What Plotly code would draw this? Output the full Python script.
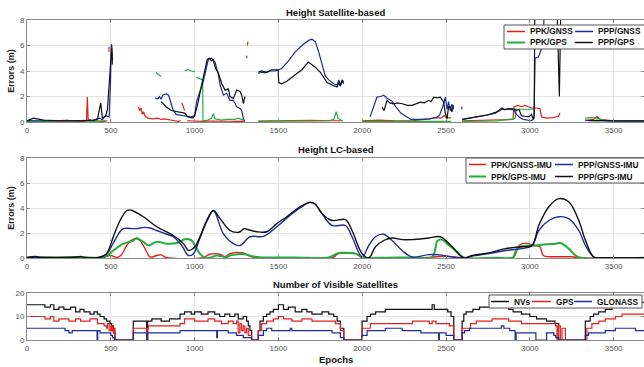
import plotly.graph_objects as go

# ---------------- Height Satellite-based (top) ----------------
sat_ppk_gnss_x = [0, 60, 120, 200, 280, 340, 355, 360, 365, 400, 450, 480, None,
                  488, 490, None,
                  665, 672, 680, 688, 695, 705, 720, 750, 780, 800, 820, 850, 880, 900, 918, None,
                  922, 930, 940, None,
                  955, 1000, 1050, 1100, 1150, 1200, 1250, 1298, None,
                  1310, 1312, None,
                  1315, 1318, None,
                  1380, 1450, 1500, 1600, 1700, 1800, 1885, None,
                  2000, 2100, 2200, 2300, 2400, 2440, 2470, 2490, 2500, 2530, None,
                  2596, 2700, 2800, 2900, 2905, 2930, 2950, 2970, 2990, 3010, 3040, 3060, 3070, 3100, 3140, 3170, 3180, None,
                  3330, 3380, 3400, 3420, 3500, 3600, 3681]
sat_ppk_gnss_y = [0.1, 0.05, 0.05, 0.08, 0.05, 0.05, 0.1, 1.95, 0.2, 0.1, 0.05, 0.1, None,
                  5.5, 5.9, None,
                  1.2, 0.9, 1.1, 0.6, 0.8, 0.45, 0.3, 0.25, 0.3, 0.2, 0.25, 0.15, 0.1, 0.05, 0.1, None,
                  1.5, 1.3, 0.9, None,
                  0.1, 0.05, 0.05, 0.08, 0.05, 0.06, 0.05, 0.05, None,
                  5.2, 5.0, None,
                  6.0, 6.3, None,
                  0.08, 0.1, 0.08, 0.1, 0.12, 0.1, 0.1, None,
                  0.1, 0.15, 0.1, 0.1, 0.25, 0.35, 0.3, 0.5, 0.35, 0.3, None,
                  0.1, 0.12, 0.15, 0.2, 1.2, 1.3, 1.2, 1.3, 1.2, 1.1, 1.1, 1.05, 0.4, 0.3, 0.35, 0.45, 0.7, None,
                  0.1, 0.2, 0.45, 0.2, 0.1, 0.08, 0.1]

sat_ppp_gnss_x = [0, 100, 200, 300, 400, 430, 450, 470, 490, 498, 503, 506, 510, None,
                  765, 780, 790, 800, 810, 830, 845, 860, 870, 890, 920, 950, 980, 1000, 1012, 1030,
                  1052, 1082, 1102, 1122, 1142, 1152, 1172, 1191, 1211, 1231, 1251, 1271, 1281, 1291, 1298, None,
                  1380, 1400, 1420, 1450, 1480, 1498, 1520, 1560, 1600, 1640, 1680, 1700, 1720, 1740, 1760,
                  1780, 1800, 1830, 1850, 1860, 1870, 1880, 1890, None,
                  2047, 2070, 2088, 2110, 2128, 2145, 2158, 2180, 2200, 2230, 2267, 2290, 2350, 2400, 2440,
                  2460, 2480, 2496, 2506, 2515, 2525, 2535, 2545, None,
                  2592, 2596, None,
                  2600, 2650, 2700, 2750, 2795, 2834, 2870, 2904, 2920, 2940, 2960, 2990, 3010, 3025, 3031,
                  3051, 3061, 3071, 3081, 3090, None,
                  3330, 3400, 3500, 3600, 3681]
sat_ppp_gnss_y = [0.1, 0.12, 0.1, 0.1, 0.15, 0.3, 0.2, 0.5, 0.4, 3.0, 6.1, 6.0, 4.5, None,
                  1.9, 1.8, 2.0, 1.8, 2.1, 2.2, 2.1, 1.5, 1.0, 0.6, 0.5, 0.45, 0.4, 0.5, 1.6, 2.4,
                  3.2, 4.9, 5.0, 4.7, 3.7, 2.9, 2.1, 2.25, 1.7, 1.7, 1.2, 1.06, 0.9, 0.27, 0.05, None,
                  3.8, 3.9, 3.85, 4.0, 4.0, 4.1, 4.2, 4.8, 5.5, 6.0, 6.4, 6.5, 6.3, 5.5, 4.5,
                  3.6, 3.3, 3.0, 2.9, 3.3, 2.9, 3.2, 3.0, None,
                  0.4, 1.2, 1.95, 2.0, 2.1, 1.9, 1.8, 1.6, 1.2, 0.7, 0.4, 0.2, 0.2, 0.25, 0.35,
                  0.5, 1.2, 1.95, 1.0, 1.6, 0.9, 1.4, 1.0, None,
                  1.0, 1.2, None,
                  0.2, 0.3, 0.4, 0.55, 0.7, 1.0, 1.0, 0.95, 0.6, 0.35, 0.2, 0.15, 0.1, 0.3, 5.0,
                  5.1, 5.5, 5.8, 7.1, 10, None,
                  0.15, 0.1, 0.1, 0.12, 0.1]

sat_ppk_gps_x = [0, 100, 180, 240, 280, 330, 400, 470, None,
                 770, 785, 800, None,
                 940, 960, 980, 1000, None,
                 1010, 1030, 1048, 1050, 1080, 1100, 1112, 1120, 1160, 1200, 1240, 1260, 1290, None,
                 1380, 1500, 1600, 1700, 1800, 1830, 1845, 1855, 1880, None,
                 2000, 2100, 2200, 2300, 2400, 2530, None,
                 2596, 2700, 2800, 2900, 2912, 2918, 2960, 3000, 3020, None,
                 3330, 3360, 3400, 3450, 3500, 3681]
sat_ppk_gps_y = [0.05, 0.03, 0.1, 0.15, 0.05, 0.12, 0.05, 0.1, None,
                 3.9, 3.7, 3.6, None,
                 4.0, 4.1, 4.0, 3.95, None,
                 3.5, 3.4, 3.3, 0.1, 0.15, 0.3, 0.65, 0.25, 0.15, 0.2, 0.2, 0.3, 0.15, None,
                 0.05, 0.05, 0.08, 0.1, 0.1, 0.2, 0.8, 0.3, 0.1, None,
                 0.05, 0.05, 0.08, 0.05, 0.05, 0.05, None,
                 0.05, 0.05, 0.08, 0.25, 0.3, 1.0, 1.0, 0.95, 1.0, None,
                 0.3, 0.35, 0.3, 0.1, 0.05, 0.05]

sat_ppp_gps_x = [0, 40, 60, 100, 200, 300, 350, 380, 420, 440, 450, 470, 480, 490, 500, 505, 510, None,
                 800, 830, 860, 900, 940, 960, 990, 1000, 1020, 1040, 1060, 1075, 1090, 1100, 1110,
                 1125, 1140, 1162, 1182, 1201, 1211, 1231, 1251, 1271, 1281, 1291, 1300, None,
                 1380, 1400, 1430, 1460, 1498, 1502, 1520, 1550, 1600, 1640, 1678, 1700, 1720, 1750,
                 1770, 1790, 1820, 1850, 1860, 1870, 1880, 1890, None,
                 2118, 2130, 2148, 2165, 2188, 2210, 2238, 2270, 2297, 2320, 2347, 2370, 2397, 2410,
                 2427, 2445, 2466, 2486, 2496, 2506, 2515, 2526, 2535, 2545, None,
                 2596, 2620, 2660, 2700, 2740, 2770, 2795, 2815, 2834, 2850, 2870, 2904, 2920, 2935,
                 2950, 2970, 2994, 3010, 3020, 3026, 3030, 3160, 3166, 3172, 3176, 3180, 3186, None,
                 3350, 3400, 3500, 3600, 3681]
sat_ppp_gps_y = [0.1, 0.3, 0.25, 0.15, 0.1, 0.1, 0.15, 0.1, 0.2, 1.5, 0.3, 0.5, 1.0, 3.0, 5.0, 5.8, 4.8, None,
                 1.6, 1.2, 0.9, 0.8, 0.7, 0.4, 0.3, 0.5, 1.5, 2.8, 4.0, 4.9, 5.0, 4.8, 4.9,
                 4.2, 3.9, 3.0, 2.5, 2.6, 2.0, 1.85, 2.5, 2.4, 2.1, 1.45, 2.0, None,
                 3.9, 4.0, 3.9, 4.1, 4.1, 3.1, 3.0, 3.2, 3.7, 4.1, 4.7, 4.5, 4.3, 3.9,
                 3.5, 3.1, 2.9, 2.75, 3.1, 2.8, 3.3, 3.1, None,
                 1.17, 0.9, 1.7, 1.5, 1.43, 1.5, 1.43, 1.3, 1.3, 1.4, 1.56, 1.5, 1.7, 1.6,
                 1.95, 1.9, 1.95, 1.56, 0.65, 0.25, 1.2, 1.17, 0.8, 1.3, None,
                 0.2, 0.25, 0.35, 0.45, 0.55, 0.65, 0.75, 0.9, 1.1, 0.95, 1.05, 1.04, 0.9, 1.0,
                 0.5, 0.45, 0.4, 0.6, 0.2, 0.5, 10, 10, 5.5, 4.0, 2.0, 5.0, 10, None,
                 0.1, 0.12, 0.08, 0.1, 0.08]

# ---------------- Height LC-based (middle) ----------------
lc_ppk_gnss_x = [0, 450, 480, 500, 535, 560, 595, 620, 644, 674, 714, 734, 774, 800, 830, 1050, 1090, 1152,
                 1180, 1211, 1251, 1291, 1340, 1400, 1820, 1860, 1960, 2000, 2400, 2440, 2500, 2600, 2900,
                 2930, 2954, 2990, 3030, 3060, 3080, 3150, 3250, 3300, 3681]
lc_ppk_gnss_y = [0.02, 0.02, 0.15, 0.2, 0.05, 0.2, 1.0, 1.4, 1.55, 1.4, 0.5, 0.08, 0.2, 0.25, 0.05, 0.02, 0.3, 0.3,
                 0.1, 0.35, 0.45, 0.4, 0.1, 0.02, 0.02, 0.35, 0.35, 0.05, 0.05, 0.1, 0.15, 0.02, 0.05,
                 0.9, 1.15, 1.15, 1.0, 0.9, 0.2, 0.1, 0.1, 0.02, 0.02]

lc_ppk_gps_x = [0, 200, 300, 450, 480, 515, 545, 575, 634, 654, 680, 694, 724, 750, 774, 833, 893, 943, 963, 983,
                1010, 1032, 1062, 1100, 1130, 1160, 1190, 1210, 1260, 1300, 1340, 1400, 1600, 1800, 1860,
                1920, 1960, 2000, 2100, 2300, 2416, 2440, 2447, 2476, 2510, 2556, 2606, 2800, 2900, 2914,
                2940, 3033, 3100, 3153, 3183, 3232, 3272, 3312, 3681]
lc_ppk_gps_y = [0.03, 0.05, 0.08, 0.03, 0.2, 0.6, 0.9, 1.15, 1.4, 1.6, 1.4, 1.3, 1.0, 1.15, 1.3, 1.15, 1.2, 1.5, 1.5, 1.4,
                0.8, 0.35, 0.0, 0.05, 0.2, 0.15, 0.05, 0.2, 0.3, 0.3, 0.15, 0.05, 0.05, 0.05, 0.4,
                0.4, 0.35, 0.05, 0.02, 0.05, 0.05, 1.0, 1.35, 1.47, 1.1, 0.6, 0.05, 0.03, 0.05, 0.5,
                0.9, 1.0, 1.1, 1.15, 1.2, 0.75, 0.2, 0.0, 0.02]

lc_ppp_gnss_x = [0, 436, 475, 515, 555, 575, 650, 700, 734, 774, 833, 873, 923, 963, 993, 1032, 1072, 1112, 1171,
                 1231, 1271, 1331, 1410, 1490, 1569, 1629, 1689, 1720, 1760, 1820, 1900, 1939, 1999, 2039,
                 2079, 2128, 2178, 2238, 2297, 2397, 2466, 2536, 2606, 2655, 2755, 2854, 2954, 3013, 3053,
                 3113, 3173, 3232, 3292, 3332, 3382, 3450, 3681]
lc_ppp_gnss_y = [0.05, 0.05, 0.3, 1.2, 2.1, 2.35, 2.35, 2.45, 2.4, 2.2, 1.9, 1.7, 1.0, 0.2, 0.35, 1.6, 2.9, 3.8, 1.95,
                 1.15, 1.0, 1.7, 1.73, 2.5, 3.4, 4.0, 4.45, 4.3, 3.55, 2.6, 2.6, 1.7, 0.08, 1.0,
                 1.7, 1.9, 1.4, 0.6, 0.08, 0.27, 0.25, 0.08, 0.0, 0.15, 0.35, 0.6, 0.75, 1.0, 2.2,
                 3.0, 3.3, 3.15, 2.2, 1.0, 0.08, 0.02, 0.02]

lc_ppp_gps_x = [0, 50, 70, 150, 300, 320, 340, 436, 475, 515, 555, 595, 615, 634, 694, 774, 873, 933, 963, 985,
                1002, 1032, 1072, 1112, 1152, 1211, 1251, 1271, 1295, 1311, 1371, 1430, 1490, 1550, 1629,
                1689, 1720, 1760, 1820, 1900, 1939, 1999, 2039, 2079, 2128, 2178, 2238, 2297, 2397, 2466,
                2536, 2606, 2655, 2755, 2854, 2954, 3013, 3053, 3113, 3173, 3232, 3292, 3332, 3382, 3450, 3681]
lc_ppp_gps_y = [0.05, 0.12, 0.08, 0.05, 0.08, 0.12, 0.05, 0.08, 0.35, 1.7, 3.0, 3.8, 3.85, 3.76, 3.3, 2.5, 1.8, 1.15, 0.6, 0.7,
                0.9, 1.7, 3.0, 3.8, 3.15, 2.2, 2.05, 2.1, 2.35, 2.3, 2.1, 2.1, 2.75, 3.3, 4.1,
                4.45, 4.3, 3.55, 3.0, 3.07, 2.2, 0.35, 0.0, 0.9, 1.4, 1.6, 1.47, 1.47, 1.6, 1.7,
                0.9, 0.0, 0.2, 0.4, 0.75, 0.9, 1.0, 2.6, 4.1, 4.75, 4.5, 3.0, 1.4, 0.08, 0.02, 0.02]

# ---------------- Number of Visible Satellites (bottom) ----------------
nvs_x = [0, 107, 140, 160, 190, 220, 260, 290, 316, 340, 376, 400, 420, 436, 460, 475, 495, 505, 515, 520,
         525, 634, 714, 720, 745, 800, 850, 913, 940, 980, 1000, 1040, 1080, 1120, 1150, 1180, 1210, 1240,
         1260, 1290, 1310, 1320, 1330, 1340, 1380, 1390, 1410, 1430, 1450, 1470, 1500, 1530, 1560, 1600,
         1640, 1670, 1700, 1760, 1800, 1830, 1850, 1870, 1890, 1999, 2029, 2049, 2080, 2138, 2417, 2430,
         2510, 2530, 2546, 2596, 2606, 2620, 2660, 2700, 2760, 2874, 2900, 2950, 3000, 3040, 3100, 3150,
         3172, 3331, 3360, 3380, 3410, 3450, 3490, 3550, 3681]
nvs_y = [15, 14, 15, 13, 14, 13, 14, 12, 13, 12, 11, 12, 11, 10, 9, 8, 7, 6, 5, 3,
         0, 8, 0, 8, 9, 8, 9, 11, 12, 11, 12, 11, 12, 11, 10, 11, 10, 11,
         9, 10, 8, 6, 4, 0, 4, 8, 10, 11, 12, 13, 15, 13, 14, 12,
         13, 12, 11, 12, 11, 10, 8, 5, 0, 8, 10, 11, 12, 13, 15, 13,
         12, 10, 0, 8, 11, 12, 13, 14, 14, 13, 12, 11, 10, 9, 8, 7,
         0, 8, 10, 11, 12, 13, 15, 16, 16]

gps_x = [0, 107, 140, 160, 190, 250, 290, 320, 376, 420, 436, 460, 475, 480, 490, 500, 505, 510, 515, 520,
         525, 634, 714, 720, 724, 913, 940, 1000, 1040, 1080, 1120, 1160, 1200, 1230, 1250, 1260, 1270, 1280,
         1290, 1300, 1310, 1320, 1340, 1380, 1400, 1430, 1470, 1500, 1530, 1580, 1640, 1700, 1760, 1840,
         1870, 1890, 1999, 2049, 2300, 2400, 2417, 2440, 2496, 2520, 2546, 2596, 2646, 2680, 2775, 2874,
         2950, 3033, 3100, 3153, 3162, 3170, 3182, 3192, 3212, 3340,
         3370, 3411, 3450, 3510, 3550, 3681]
gps_y = [10, 9, 10, 8, 9, 8, 9, 8, 9, 7, 7, 6, 5, 7, 4, 6, 4, 6, 3, 5,
         0, 5, 0, 5, 6, 7, 9, 8, 8, 9, 8, 7, 8, 7, 8, 3, 7, 4,
         6, 3, 5, 2, 0, 4, 7, 8, 9, 10, 9, 8, 9, 8, 8, 7,
         4, 0, 5, 7, 8, 7, 8, 7, 7, 6, 0, 5, 7, 8, 9, 8,
         7, 7, 7, 6, 0, 6, 0, 5, 0, 5,
         7, 8, 9, 10, 11, 11]

glonass_x = [0, 227, 250, 270, 415, 418, 422, 436, 480, 500, 510, 525, 634, 714, 718, 913, 1120, 1132, 1136,
             1200, 1250, 1290, 1320, 1340, 1380, 1410, 1430, 1460, 1560, 1570, 1580, 1760, 1820, 1870, 1890,
             1999, 2029, 2138, 2238, 2350, 2456, 2460, 2500, 2546, 2596, 2610, 2640, 2830, 2845, 2880, 2912,
             2918, 3030, 3036, 3100, 3143, 3155, 3172, 3331, 3350, 3450, 3510, 3630, 3681]
glonass_y = [5, 4, 3, 4, 4, 0, 4, 3, 3, 2, 1, 0, 3, 0, 3, 4, 4, 1, 4,
             3, 2, 1, 1, 0, 2, 4, 5, 4, 4, 5, 4, 4, 3, 1, 0,
             2, 4, 5, 4, 3, 0, 3, 2, 0, 3, 4, 5, 6, 5, 4, 0,
             3, 3, 0, 3, 2, 1, 0, 2, 3, 4, 5, 4, 4]

x_ticks = [0, 500, 1000, 1500, 2000, 2500, 3000, 3500]
err_ticks = [0, 2, 4, 6, 8]
sat_ticks = [0, 10, 20]

sat_names = ['PPK/GNSS', 'PPK/GPS', 'PPP/GNSS', 'PPP/GPS']
lc_names = ['PPK/GNSS-IMU', 'PPK/GPS-IMU', 'PPP/GNSS-IMU', 'PPP/GPS-IMU']
count_names = ['NVs', 'GPS', 'GLONASS']
panel_titles = ['Height Satellite-based', 'Height LC-based', 'Number of Visible Satellites']

RED = '#e0201c'
GREEN = '#1fae3a'
BLUE = '#1e2b9c'
BLACK = '#111111'
FONT = 'Liberation Sans, Arial, sans-serif'

W, H = 644.0, 367.0
ML = 27.0
PW = W - ML

fig = go.Figure()


def add(x, y, name, color, xa, ya, width=1.2, shape='linear'):
    fig.add_trace(go.Scatter(
        x=x, y=y, mode='lines', name=name, xaxis=xa, yaxis=ya, showlegend=False,
        connectgaps=False, line=dict(color=color, width=width, shape=shape)))


# top
add(sat_ppk_gnss_x, sat_ppk_gnss_y, sat_names[0], RED, 'x', 'y')
add(sat_ppk_gps_x, sat_ppk_gps_y, sat_names[1], GREEN, 'x', 'y')
add(sat_ppp_gnss_x, sat_ppp_gnss_y, sat_names[2], BLUE, 'x', 'y')
add(sat_ppp_gps_x, sat_ppp_gps_y, sat_names[3], BLACK, 'x', 'y')
# middle
add(lc_ppk_gnss_x, lc_ppk_gnss_y, lc_names[0], RED, 'x2', 'y2', 1.4, 'spline')
add(lc_ppk_gps_x, lc_ppk_gps_y, lc_names[1], GREEN, 'x2', 'y2', 2.0, 'spline')
add(lc_ppp_gnss_x, lc_ppp_gnss_y, lc_names[2], BLUE, 'x2', 'y2', 1.4, 'spline')
add(lc_ppp_gps_x, lc_ppp_gps_y, lc_names[3], BLACK, 'x2', 'y2', 1.4, 'spline')
# bottom
add(nvs_x, nvs_y, count_names[0], BLACK, 'x3', 'y3', 1.2, 'hv')
add(gps_x, gps_y, count_names[1], RED, 'x3', 'y3', 1.2, 'hv')
add(glonass_x, glonass_y, count_names[2], BLUE, 'x3', 'y3', 1.2, 'hv')


def dom(top_px, bot_px):
    return [1 - bot_px / H, 1 - top_px / H]


def px_x(p):
    return (p - ML) / PW


def px_y(p):
    return 1 - p / H


axis_common = dict(showline=True, linecolor='#8a8a8a', linewidth=1, mirror='ticks',
                   ticks='inside', ticklen=3, tickcolor='#8a8a8a',
                   showgrid=True, gridcolor='#e4e4e4', gridwidth=1, zeroline=False,
                   tickfont=dict(family=FONT, size=8, color='#555555'))

xcommon = dict(axis_common, range=[0, 3681], tickvals=x_ticks, domain=[0, 1])
ytitle = dict(text='Errors (m)', font=dict(family=FONT, size=9, color='#222222', weight='bold'), standoff=3)

fig.update_layout(
    width=644, height=367,
    margin=dict(l=27, r=0, t=0, b=0, autoexpand=False),
    paper_bgcolor='white', plot_bgcolor='white',
    showlegend=False,
    xaxis=dict(xcommon, anchor='y'),
    yaxis=dict(axis_common, range=[0, 8], tickvals=err_ticks, domain=dom(20, 122), anchor='x', title=ytitle),
    xaxis2=dict(xcommon, anchor='y2'),
    yaxis2=dict(axis_common, range=[0, 8], tickvals=err_ticks, domain=dom(158, 258), anchor='x2', title=ytitle),
    xaxis3=dict(xcommon, anchor='y3'),
    yaxis3=dict(axis_common, range=[0, 20], tickvals=sat_ticks, domain=dom(293, 340), anchor='x3'),
)

title_font = dict(family=FONT, size=9.5, color='#111111', weight='bold')
for text, ypx in [(panel_titles[0], 12), (panel_titles[1], 149),
                  (panel_titles[2], 284), ('Epochs', 359)]:
    fig.add_annotation(text=text, xref='paper', yref='paper', x=0.5, y=px_y(ypx),
                       xanchor='center', yanchor='middle', showarrow=False, font=title_font)

# ---- legend boxes (drawn as in the source figure) ----
leg_font = dict(family=FONT, size=8.3, color='#111111', weight='bold')


def legend_box(x0, x1, y0, y1):
    fig.add_shape(type='rect', xref='paper', yref='paper', layer='above',
                  x0=px_x(x0), x1=px_x(x1), y0=px_y(y1), y1=px_y(y0),
                  line=dict(color='#555555', width=1), fillcolor='white')


def legend_item(lx0, lx1, ypx, color, width, text):
    fig.add_shape(type='line', xref='paper', yref='paper', layer='above',
                  x0=px_x(lx0), x1=px_x(lx1), y0=px_y(ypx), y1=px_y(ypx),
                  line=dict(color=color, width=width))
    fig.add_annotation(text=text, xref='paper', yref='paper', x=px_x(lx1 + 3), y=px_y(ypx),
                       xanchor='left', yanchor='middle', showarrow=False, font=leg_font)


# top legend
legend_box(504, 652, 25, 49)
legend_item(507, 525, 31.5, RED, 1.5, sat_names[0])
legend_item(507, 525, 42.5, GREEN, 2.0, sat_names[1])
legend_item(575, 593, 31.5, BLUE, 1.5, sat_names[2])
legend_item(575, 593, 42.5, BLACK, 1.5, sat_names[3])
# middle legend
legend_box(466, 652, 158, 183)
legend_item(469, 486, 164.5, RED, 1.5, lc_names[0])
legend_item(469, 486, 176.5, GREEN, 2.0, lc_names[1])
legend_item(555, 573, 164.5, BLUE, 1.5, lc_names[2])
legend_item(555, 573, 176.5, BLACK, 1.5, lc_names[3])
# bottom legend
legend_box(489, 642, 295, 308)
legend_item(491, 509, 301.5, BLACK, 1.5, count_names[0])
legend_item(532, 551, 301.5, RED, 1.5, count_names[1])
legend_item(574, 592, 301.5, BLUE, 1.5, count_names[2])

fig.write_html('out.html')
